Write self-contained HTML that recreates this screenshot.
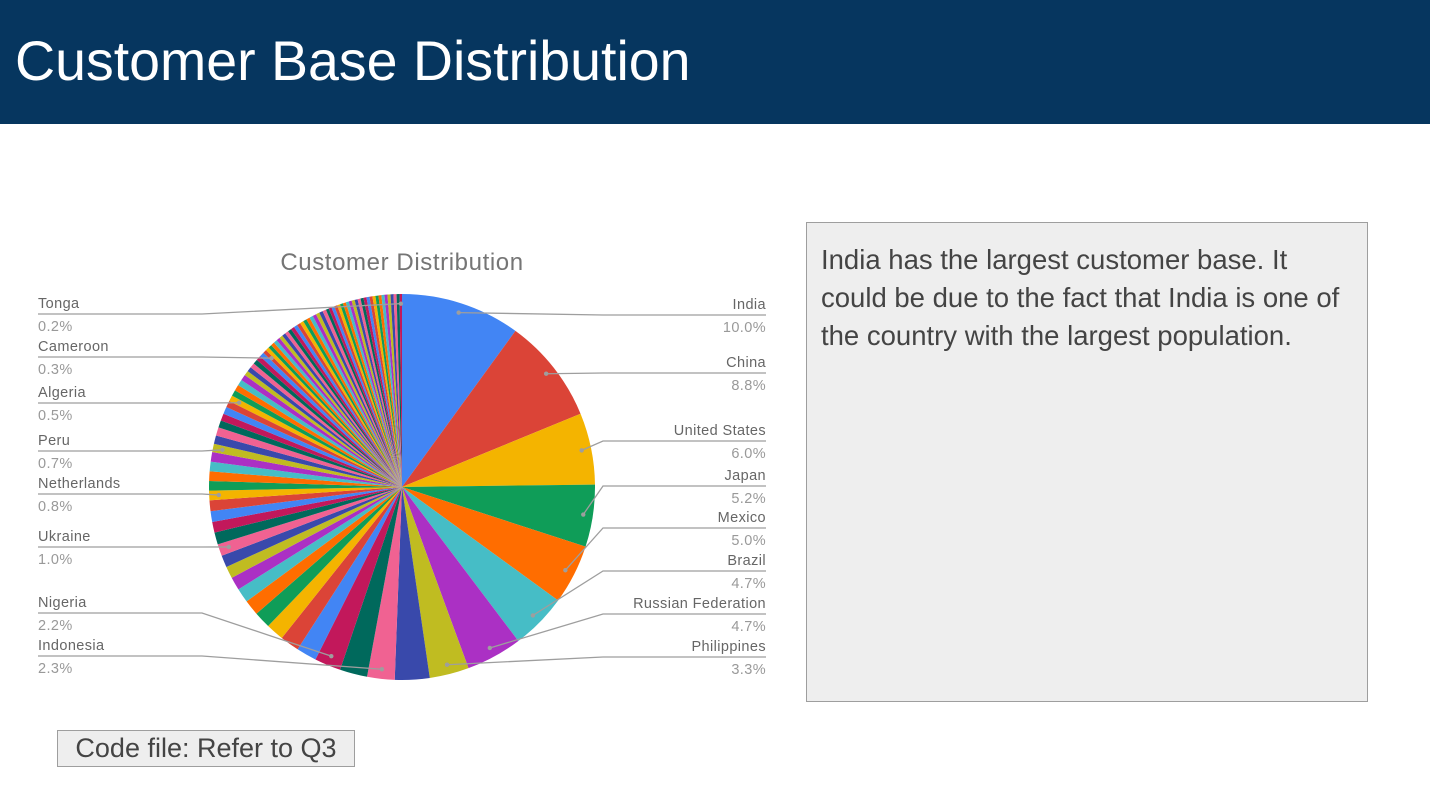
<!DOCTYPE html>
<html><head><meta charset="utf-8">
<style>
body{margin:0;width:1430px;height:805px;background:#fff;overflow:hidden;font-family:"Liberation Sans",Arial,sans-serif;position:relative}
#hdr{position:absolute;left:0;top:0;width:1430px;height:124px;background:#06365f}
#hdr h1{position:absolute;left:15px;top:31px;margin:0;font-weight:normal;font-size:55.5px;line-height:60px;color:#fff;white-space:nowrap}
#note{position:absolute;left:806px;top:222px;width:562px;height:480px;background:#eeeeee;border:1px solid #9e9e9e;box-sizing:border-box;padding:18px 0 0 14px;font-size:27.5px;line-height:38px;color:#444;white-space:nowrap}
#code{position:absolute;left:57px;top:730px;width:298px;height:37px;background:#eeeeee;border:1px solid #9e9e9e;box-sizing:border-box;font-size:27px;line-height:35px;color:#444;text-align:center;white-space:nowrap}
svg{position:absolute;left:0;top:0}
</style></head><body>
<div id="hdr"><h1>Customer Base Distribution</h1></div>
<div id="note">India has the largest customer base. It<br>could be due to the fact that India is one of<br>the country with the largest population.</div>
<div id="code">Code file: Refer to Q3</div>
<svg id="chart" width="1430" height="805">
<text x="402" y="270" text-anchor="middle" font-size="24" letter-spacing="0.6" fill="#757575">Customer Distribution</text>
</svg>
<script>
const categories = ["India","China","United States","Japan","Mexico","Brazil","Russian Federation","Philippines","Other1","Indonesia","Other2","Nigeria",
"O3","O4","O5","O6","O7","O8","O9","O10","O11","Ukraine","O12","O13","O14","O15","Netherlands","O16","O17","O18","O19","Peru",
"O20","O21","O22","O23","O24","O25","Algeria","O26","O27","O28","O29","O30","O31","O32","O33","O34","O35","Cameroon"];
const values = [10.0,8.8,6.0,5.2,5.0,4.7,4.7,3.3,2.9,2.3,2.3,2.2,
1.7,1.6,1.5,1.4,1.3,1.2,1.1,1.0,1.0,1.0,1.0,0.9,0.9,0.9,0.8,0.8,0.8,0.8,0.8,0.7,
0.7,0.7,0.6,0.6,0.6,0.55,0.5,0.5,0.5,0.5,0.5,0.4,0.4,0.4,0.4,0.4,0.4,0.3];
const tailValues = [0.3,0.3,0.3,0.3,0.3,0.3,0.3,0.3,0.3,0.3,0.3,0.3,0.3,0.3,0.3,0.3,0.3,0.3,0.3,0.3,
0.25,0.25,0.25,0.25,0.25,0.25,0.25,0.25,0.25,0.25,0.25,0.25,0.25,0.25,0.25,0.25,0.25,0.25,0.25,0.25,0.25,0.25,0.25,0.25,0.25,0.2];
const labelNames = ["India","China","United States","Japan","Mexico","Brazil","Russian Federation","Philippines","Indonesia","Nigeria","Ukraine","Netherlands","Peru","Algeria","Cameroon","Tonga"];
const labelTexts = ["10.0%","8.8%","6.0%","5.2%","5.0%","4.7%","4.7%","3.3%","2.3%","2.2%","1.0%","0.8%","0.7%","0.5%","0.3%","0.2%"];

const allCats = categories.slice();
tailValues.forEach((v,i)=>allCats.push(i===tailValues.length-1?"Tonga":"T"+i));
const allVals = values.concat(tailValues);
const palette=["#4285f4","#db4437","#f4b400","#0f9d58","#ff6d00","#46bdc6","#ab30c4","#c0bc21","#3949ab","#f06292","#00695c","#c2185b"];
const cx=402, cy=487, R=193;
const total=allVals.reduce((a,b)=>a+b,0);
const svg=document.getElementById('chart');
const NS="http://www.w3.org/2000/svg";
function pt(frac,r){const a=frac*2*Math.PI;return [cx+r*Math.sin(a),cy-r*Math.cos(a)];}
const g=document.createElementNS(NS,'g');


svg.appendChild(g);
let cum=0; const mids={};
allVals.forEach((v,i)=>{
  const f0=cum/total, f1=(cum+v)/total; cum+=v;
  mids[allCats[i]]=(f0+f1)/2;
  const [x0,y0]=pt(f0,R),[x1,y1]=pt(f1,R);
  const p=document.createElementNS(NS,'path');
  p.setAttribute('d',`M${cx},${cy}L${x0},${y0}A${R},${R} 0 ${f1-f0>0.5?1:0} 1 ${x1},${y1}Z`);
  p.setAttribute('fill',palette[i%12]);
  
  
  g.appendChild(p);
});
const lineYs={"India":315,"China":373,"United States":441,"Japan":486,"Mexico":528,"Brazil":571,"Russian Federation":614,"Philippines":657,
"Tonga":314,"Cameroon":357,"Algeria":403,"Peru":451,"Netherlands":494,"Ukraine":547,"Nigeria":613,"Indonesia":656};
labelNames.forEach((n,i)=>{
  const f=mids[n]; const [dx,dy]=pt(f,R*0.95);
  const right=f<0.5; const ly=lineYs[n];
  const pl=document.createElementNS(NS,'polyline');
  pl.setAttribute('points',right?`${dx},${dy} 603,${ly} 766,${ly}`:`${dx},${dy} 202,${ly} 38,${ly}`);
  pl.setAttribute('fill','none');pl.setAttribute('stroke','#9e9e9e');pl.setAttribute('stroke-width','1.3');
  
  
  svg.appendChild(pl);
  const c=document.createElementNS(NS,'circle');
  c.setAttribute('cx',dx);c.setAttribute('cy',dy);c.setAttribute('r','2.2');c.setAttribute('fill','#9e9e9e');
  
  
  svg.appendChild(c);
  const x=right?766:38, anc=right?'end':'start';
  const t1=document.createElementNS(NS,'text');
  t1.setAttribute('x',x);t1.setAttribute('y',ly-6);t1.setAttribute('text-anchor',anc);t1.setAttribute('font-size','14.5');t1.setAttribute('letter-spacing','0.4');t1.setAttribute('fill','#666');
  t1.textContent=n;
  
  
  svg.appendChild(t1);
  const t2=document.createElementNS(NS,'text');
  t2.setAttribute('x',x);t2.setAttribute('y',ly+17);t2.setAttribute('text-anchor',anc);t2.setAttribute('font-size','14.5');t2.setAttribute('letter-spacing','0.4');t2.setAttribute('fill','#999');
  t2.textContent=labelTexts[i];
  
  
  svg.appendChild(t2);
});
</script>
</body></html>
